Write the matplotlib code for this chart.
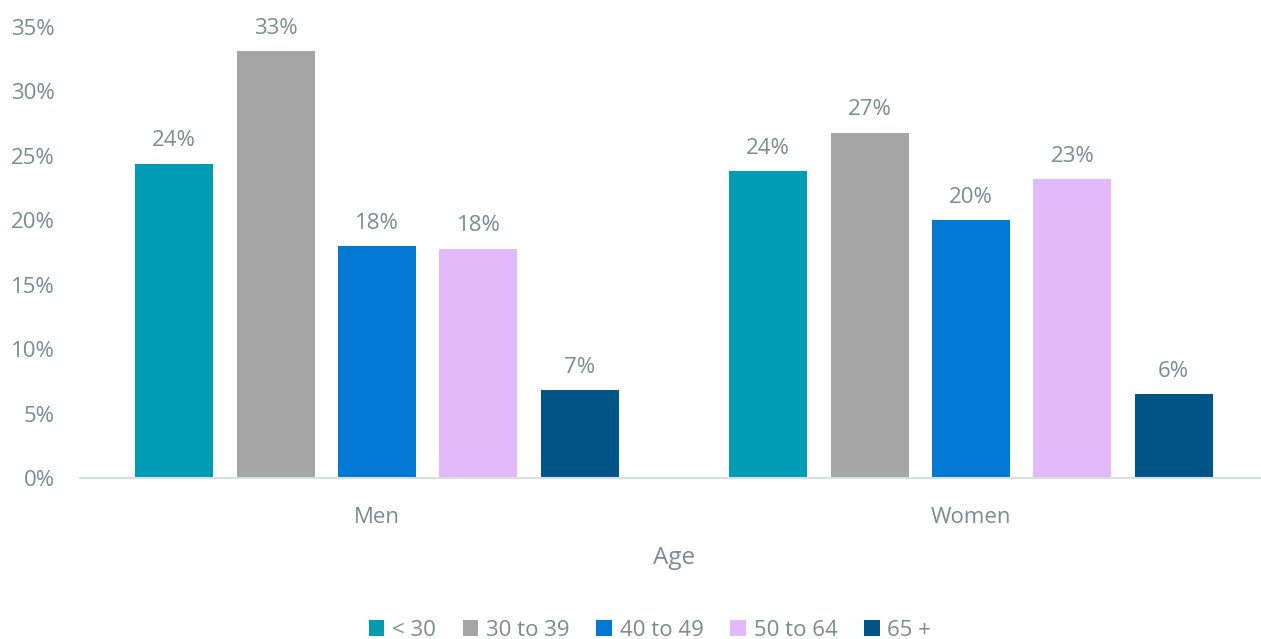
import matplotlib
matplotlib.use("Agg")
import matplotlib.pyplot as plt
from matplotlib.patches import Patch
import numpy as np

plt.rcParams['font.family'] = ['Open Sans', 'DejaVu Sans']

categories = ["Men", "Women"]
series = ["< 30", "30 to 39", "40 to 49", "50 to 64", "65 +"]
values = {
    "< 30":     [24.4, 23.8],
    "30 to 39": [33.1, 26.8],
    "40 to 49": [18.0, 20.0],
    "50 to 64": [17.8, 23.2],
    "65 +":     [6.8, 6.5],
}
colors = ["#009CB4", "#A5A5A5", "#0078D4", "#E2BAF9", "#005587"]
yticks = [0, 5, 10, 15, 20, 25, 30, 35]

text_color = "#7F8A8A"
W, H = 1261, 639
fig = plt.figure(figsize=(W/100, H/100), dpi=100)
ax = fig.add_axes([80/W, (H-478)/H, (1268-80)/W, (478-27)/H])

x = np.arange(len(categories))
step = 0.1707
bw = 0.131
for i, s in enumerate(series):
    pos = x + (i - 2) * step
    ax.bar(pos, values[s], width=bw, color=colors[i])
    for p, v in zip(pos, values[s]):
        ax.text(p, v + 0.95, f"{round(v):.0f}%", ha="center", va="bottom",
                fontsize=16, color=text_color)

ax.set_xlim(-0.5, 1.5)
ax.set_ylim(0, 35)
ax.set_yticks(yticks)
ax.set_yticklabels([f"{t}%" for t in yticks])
ax.set_xticks(x)
ax.set_xticklabels(categories)
ax.tick_params(axis="both", length=0, labelsize=16, colors=text_color)
ax.tick_params(axis="x", pad=21)
ax.tick_params(axis="y", pad=18)
for sp in ["top", "right", "left"]:
    ax.spines[sp].set_visible(False)
ax.spines["bottom"].set_color("#D9DEDE")
ax.spines["bottom"].set_linewidth(1.5)

fig.text(674/W, 1 - 558/H, "Age", ha="center", va="center", fontsize=17.5, color=text_color)

handles = [Patch(facecolor=c, label=s) for c, s in zip(colors, series)]
fig.legend(handles=handles, loc="center", bbox_to_anchor=(650/W, 1 - 630/H),
           ncol=5, frameon=False, fontsize=16, handlelength=0.7, handleheight=0.7,
           handletextpad=0.35, columnspacing=1.2, labelcolor=text_color)

fig.savefig("out.png", dpi=100)
